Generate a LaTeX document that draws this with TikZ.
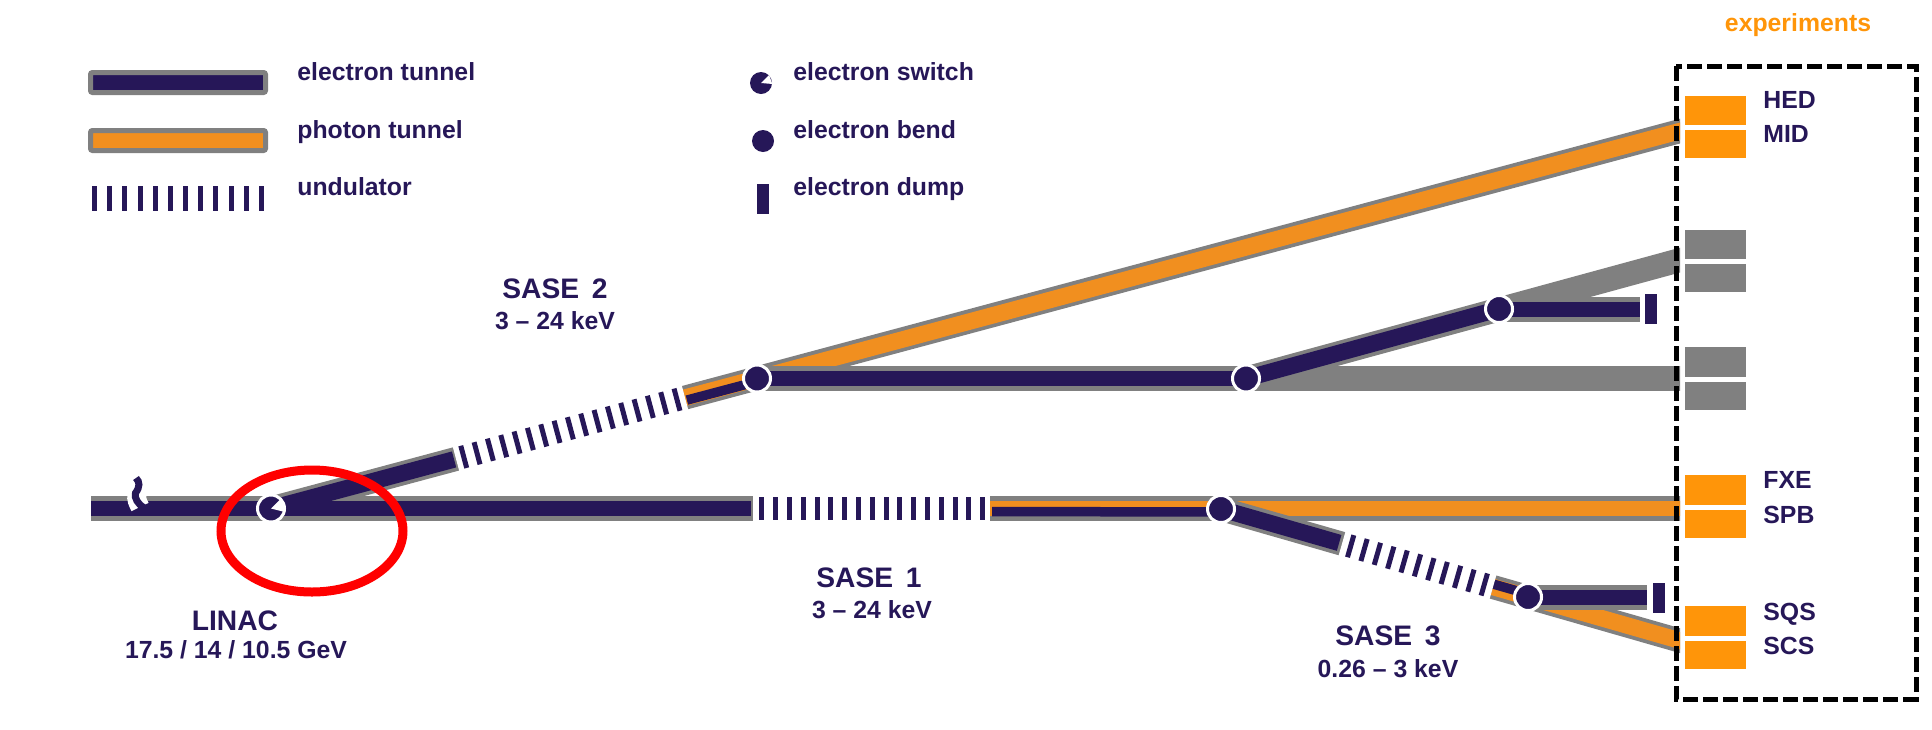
\documentclass[tikz,border=0pt]{standalone}
\usepackage{fontspec}
\setmainfont{Liberation Sans}
\usetikzlibrary{positioning,calc,shapes.geometric}
\definecolor{navy}{HTML}{261758}
\definecolor{tunnelorange}{HTML}{F18F1F}
\definecolor{hutchorange}{HTML}{FF9509}
\definecolor{wallgray}{HTML}{808080}
\begin{document}
\begin{tikzpicture}[
  x=0.5pt, y=-0.5pt,
  font=\fontsize{12.4}{14}\selectfont\bfseries,
  wall/.style={draw=wallgray, line width=12.5pt},
  etube/.style={draw=navy, line width=7.5pt},
  ehalf/.style={draw=navy, line width=4.75pt},
  ptube/.style={draw=tunnelorange, line width=7.5pt},
  slant/.style={line width=8.25pt},
  slantwall/.style={wall, line width=12pt},
  undgap/.style={draw=white, line width=13.25pt},
  undbar/.style={draw=navy, line width=2.5pt},
  bendpt/.style={circle, fill=navy, draw=white, line width=1.5pt, minimum size=13.5pt, inner sep=0pt},
  keydot/.style={circle, fill=navy, minimum size=11pt, inner sep=0pt},
  dumpbar/.style={fill=navy, minimum width=6pt, minimum height=15pt, inner sep=0pt},
  hutch/.style={minimum width=30.5pt, inner sep=0pt, fill=hutchorange},
  offhutch/.style={hutch, fill=wallgray},
  keybox/.style={draw=wallgray, line width=2.5pt, rounded corners=1pt},
  lbl/.style={anchor=base west, text=navy, inner sep=0pt},
  beamname/.style={anchor=base, text=navy, inner sep=0pt, font=\fontsize{14.1}{16}\selectfont\bfseries},
  beamrange/.style={anchor=base, text=navy, inner sep=0pt}]
  \useasboundingbox (0,0) rectangle (1932,729);
  \coordinate (start) at (91,508.5);
  \coordinate (u1a) at (753,508.5);
  \coordinate (u1b) at (990,508.5);
  \coordinate (mainend) at (1700,508.5);
  \coordinate (u2a) at (456,458.9);
  \coordinate (u2b) at (685,397.6);
  \coordinate (hmid) at (1700,378.5);
  \coordinate (u2end) at (1700,125.7);
  \coordinate (upend) at (1700,254.6);
  \coordinate (u3a) at (1342,543.7);
  \coordinate (u3b) at (1493,587);
  \coordinate (u3end) at (1700,646.4);
  \coordinate (dmp1) at (1640,309);
  \coordinate (dmp3) at (1647,597);
  \node[bendpt] (sw) at (271,508.5) {};
  \node[bendpt] (b2) at (757,378.5) {};
  \node[bendpt] (b3) at (1246,378.5) {};
  \node[bendpt] (b4) at (1499,309) {};
  \node[bendpt] (b1) at (1221,509) {};
  \node[bendpt] (b5) at (1528,597) {};
  \begin{scope}
    \clip (0,0) rectangle (1680,729);
    \draw[slantwall] (sw.center) -- (u2end);
    \draw[wall] (start) -- (mainend);
    \draw[ptube, slant] (b2.center) -- (u2end);
    \draw[etube, slant, shorten >=1pt] (sw.center) -- (u2a);
    \draw[etube, shorten >=1pt] (start) -- (u1a);
    \draw[ptube, slant] (u2b) -- (b2.center);
    \draw[ehalf, shorten <=1pt] ([yshift=-1.5pt]u2b) -- ([yshift=-1.5pt]b2.center);
    \draw[ptube] (u1b) -- (mainend);
    \draw[ehalf, shorten <=1pt] ([yshift=-1.5pt]u1b) -- ([yshift=-1.5pt]b1.center);
    \draw[wall] (b2.center) -- (hmid);
    \draw[slantwall] (b3.center) -- (upend);
    \draw[etube] (b2.center) -- (b3.center);
    \draw[etube, slant] (b3.center) -- (b4.center);
    \draw[wall] (b4.center) -- (dmp1);
    \draw[etube] (b4.center) -- (dmp1);
    \draw[slantwall] (b1.center) -- (u3end);
    \draw[etube, slant, shorten >=1.5pt] (b1.center) -- (u3a);
    \draw[ptube, slant] (u3b) -- (u3end);
    \draw[ehalf] ([yshift=1.5pt]u3b) -- ([yshift=1.5pt]b5.center);
    \draw[wall] (b5.center) -- (dmp3);
    \draw[etube] (b5.center) -- (dmp3);
  \end{scope}
  \draw[undgap] (u1a) -- (u1b);
  \draw[undgap] (u2a) -- (u2b);
  \draw[undgap] (u3a) -- (u3b);
  \begin{scope}[shift={(u1a)}]
    \foreach \i in {0,...,16} \draw[undbar] ({8.8+13.8*\i},-11.5) -- ({8.8+13.8*\i},11.5);
  \end{scope}
  \begin{scope}[shift={(u2a)},rotate=15]
    \foreach \i in {0,...,16} \draw[undbar] ({8+13.8*\i},-11.5) -- ({8+13.8*\i},11.5);
  \end{scope}
  \begin{scope}[shift={(u3a)},rotate=-16]
    \foreach \i in {0,...,10} \draw[undbar] ({9+13.9*\i},-11.5) -- ({9+13.9*\i},11.5);
  \end{scope}
  \node[bendpt] at (sw) {};
  \fill[white] (sw.center) -- (sw.45) -- (sw.-14) -- cycle;
  \node[bendpt] at (b1) {};
  \node[bendpt] at (b2) {};
  \node[bendpt] at (b3) {};
  \node[bendpt] at (b4) {};
  \node[bendpt] at (b5) {};
  \node[dumpbar] (d1) at (1651,309) {};
  \node[dumpbar] (d3) at (1658.5,598) {};
  \draw[white, line width=9.5pt] (137,495) .. controls (136,499) and (138,503) .. (140,507);
  \draw[navy, line width=3.5pt] (136,478) .. controls (140,482) and (140,487) .. (135.5,493) .. controls (134,498) and (138,504) .. (144,508);
  \node[draw=red, line width=4.5pt, ellipse, minimum width=91pt, minimum height=61pt, inner sep=0pt] (focus) at (312,531) {};
  \node[hutch, minimum height=14.5pt] (hed) at (1715.5,110.5) {};
  \node[hutch, minimum height=14pt] (mid) at (1715.5,144) {};
  \node[offhutch, minimum height=14.5pt] (g1) at (1715.5,244.5) {};
  \node[offhutch, minimum height=14pt] (g2) at (1715.5,278) {};
  \node[offhutch, minimum height=15pt] (g3) at (1715.5,362) {};
  \node[offhutch, minimum height=14pt] (g4) at (1715.5,396) {};
  \node[hutch, minimum height=15pt] (fxe) at (1715.5,490) {};
  \node[hutch, minimum height=14pt] (spb) at (1715.5,524) {};
  \node[hutch, minimum height=15pt] (sqs) at (1715.5,621) {};
  \node[hutch, minimum height=14pt] (scs) at (1715.5,655) {};
  \draw[line width=2.5pt, dash pattern=on 7.5pt off 2.5pt] (1676,66) rectangle (1916,699);
  \node[lbl] at (1763,108) {HED};
  \node[lbl] at (1763,142) {MID};
  \node[lbl] at (1763,488) {FXE};
  \node[lbl] at (1763,523) {SPB};
  \node[lbl] at (1763,620) {SQS};
  \node[lbl] at (1763,654) {SCS};
  \node[anchor=base, text=hutchorange, inner sep=0pt] (exp) at (1798,31) {experiments};
  \draw[keybox, fill=navy] (90.5,72.5) rectangle (265.5,92.5);
  \draw[keybox, fill=tunnelorange] (90.5,130.5) rectangle (265.5,150.5);
  \foreach \i in {0,...,11} \draw[undbar] ({94.5+15.18*\i},186) -- ({94.5+15.18*\i},211);
  \node[lbl] at (297,80) {electron tunnel};
  \node[lbl] at (297,138) {photon tunnel};
  \node[lbl] at (297,195) {undulator};
  \node[keydot] (lgsw) at (761,83) {};
  \fill[white] (lgsw.center) -- (lgsw.45) -- (lgsw.-5) -- cycle;
  \node[keydot] (lgbend) at (763,141) {};
  \node[dumpbar] (lgdump) at (763,198.5) {};
  \node[lbl] at (793,80) {electron switch};
  \node[lbl] at (793,138) {electron bend};
  \node[lbl] at (793,195) {electron dump};
  \node[beamname] (linac) at (235,630) {LINAC};
  \node[beamrange] at (236,658) {17.5 / 14 / 10.5 GeV};
  \node[beamname] (s1) at (869,587) {SASE\hspace{.45em}1};
  \node[beamrange] at (872,618) {3 -- 24 keV};
  \node[beamname] (s2) at (555,298) {SASE\hspace{.45em}2};
  \node[beamrange] at (555,329) {3 -- 24 keV};
  \node[beamname] (s3) at (1388,645) {SASE\hspace{.45em}3};
  \node[beamrange] at (1388,677) {0.26 -- 3 keV};
\end{tikzpicture}
\end{document}
